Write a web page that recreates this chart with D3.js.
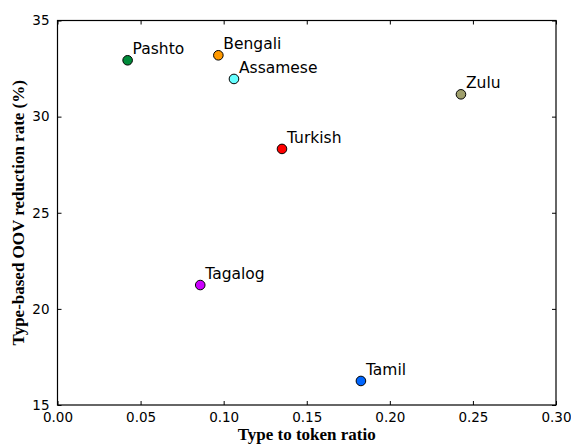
<!DOCTYPE html>
<html><head><meta charset="utf-8">
<script src="https://cdn.jsdelivr.net/npm/d3@7"></script>
<style>body{margin:0;background:#fff}</style>
</head><body>
<script>
const languages = ["Pashto","Bengali","Assamese","Zulu","Turkish","Tagalog","Tamil"];
const ttr = [0.0422,0.0968,0.1062,0.2428,0.1351,0.0859,0.1826];
const oovReduction = [32.93,33.19,31.96,31.16,28.32,21.24,16.25];
const colors = ["#008b3a","#ff9900","#66ffff","#9f9f6c","#ff0000","#cc00ff","#0066ff"];
const xTicks = [0,0.05,0.10,0.15,0.20,0.25,0.30];
const yTicks = [15,20,25,30,35];

const W=571,H=445;
const m={l:57.5,r:15,t:20.5,b:40};
const svg=d3.select("body").append("svg").attr("width",W).attr("height",H);
const x=d3.scaleLinear().domain([0,0.30]).range([m.l,W-m.r]);
const y=d3.scaleLinear().domain([15,35]).range([H-m.b,m.t]);
const tf="DejaVu Sans, sans-serif";

function styleAxis(g,hideLabels){
  g.select(".domain").remove();
  g.selectAll("line").attr("stroke","#000").attr("stroke-width",1);
  g.selectAll("text").attr("font-family",tf).attr("font-size",13.5).attr("fill","#000");
  if(hideLabels) g.selectAll("text").remove();
}
svg.append("g").attr("transform",`translate(0,${H-m.b})`)
  .call(d3.axisBottom(x).tickValues(xTicks).tickFormat(d3.format(".2f")).tickSizeInner(-4).tickSizeOuter(0).tickPadding(7))
  .call(g=>styleAxis(g,false));
svg.append("g").attr("transform",`translate(0,${m.t})`)
  .call(d3.axisTop(x).tickValues(xTicks).tickSizeInner(-4).tickSizeOuter(0))
  .call(g=>styleAxis(g,true));
svg.append("g").attr("transform",`translate(${m.l},0)`)
  .call(d3.axisLeft(y).tickValues(yTicks).tickFormat(d3.format("d")).tickSizeInner(-4).tickSizeOuter(0).tickPadding(8))
  .call(g=>styleAxis(g,false));
svg.append("g").attr("transform",`translate(${W-m.r},0)`)
  .call(d3.axisRight(y).tickValues(yTicks).tickSizeInner(-4).tickSizeOuter(0))
  .call(g=>styleAxis(g,true));

svg.append("rect").attr("x",m.l).attr("y",m.t).attr("width",W-m.r-m.l).attr("height",H-m.b-m.t)
  .attr("fill","none").attr("stroke","#000").attr("stroke-width",1.2);

const data=languages.map((l,i)=>({l,x:ttr[i],y:oovReduction[i],c:colors[i]}));
svg.selectAll("circle.pt").data(data).join("circle").attr("class","pt")
  .attr("cx",d=>x(d.x)).attr("cy",d=>y(d.y)).attr("r",4.8)
  .attr("fill",d=>d.c).attr("stroke","#000").attr("stroke-width",1);
svg.selectAll("text.lbl").data(data).join("text").attr("class","lbl")
  .attr("x",d=>x(d.x)+5).attr("y",d=>y(d.y)-6)
  .attr("font-family",tf).attr("font-size",15.5).attr("fill","#000").text(d=>d.l);

const sf="'Liberation Serif', 'DejaVu Serif', serif";
svg.append("text").attr("x",(m.l+W-m.r)/2).attr("y",H-5).attr("text-anchor","middle")
  .attr("font-family",sf).attr("font-weight","bold").attr("font-size",17).text("Type to token ratio");
svg.append("text").attr("transform",`translate(24,${(m.t+H-m.b)/2}) rotate(-90)`).attr("text-anchor","middle")
  .attr("font-family",sf).attr("font-weight","bold").attr("font-size",17).text("Type-based OOV reduction rate (%)");
</script>
</body></html>
